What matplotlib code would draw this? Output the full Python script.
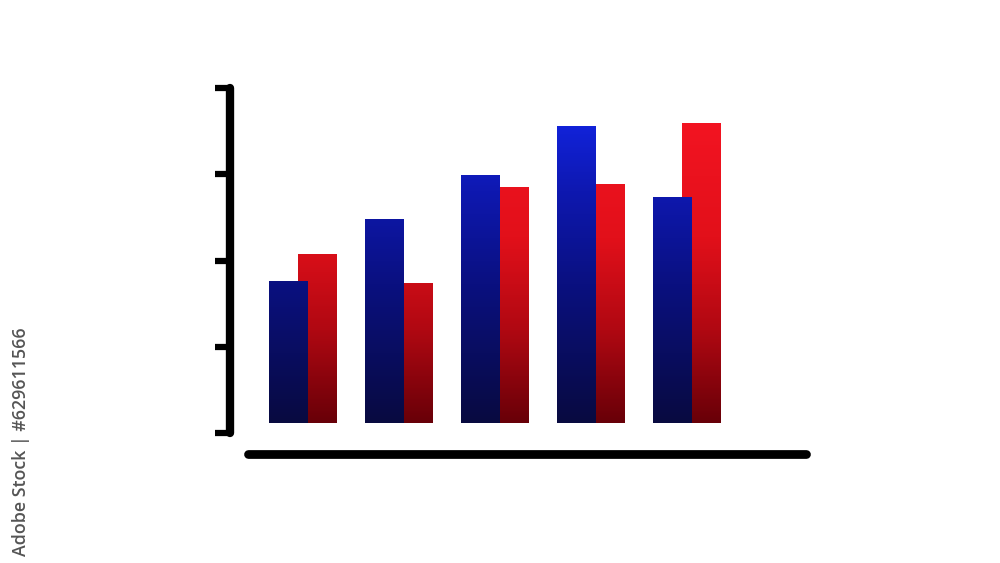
import numpy as np
import matplotlib.pyplot as plt
from matplotlib.colors import LinearSegmentedColormap

# bar values (tick units, baseline at 0)
groups = ["1", "2", "3", "4", "5"]
blue_vals = [1.76, 2.48, 2.99, 3.56, 2.74]
red_vals = [2.08, 1.74, 2.85, 2.89, 3.59]
y_ticks = [0, 1, 2, 3, 4]
base = 0.12  # bars sit slightly above the lowest tick

blue_cmap = LinearSegmentedColormap.from_list(
    "b", [(0, "#080a40"), (0.45, "#0a1080"), (0.75, "#0e18b0"), (1, "#1224e0")])
red_cmap = LinearSegmentedColormap.from_list(
    "r", [(0, "#680008"), (0.3, "#b00812"), (0.6, "#e2101a"), (1, "#f41422")])

fig = plt.figure(figsize=(10, 5.63), dpi=100)
ax = fig.add_axes([0.230, 1 - 433 / 563, 0.576, 345 / 563])

x = np.arange(len(groups))
heights_b = [v - base for v in blue_vals]
heights_r = [v - base for v in red_vals]
red_bars = ax.bar(x + 0.30, heights_r, width=0.40, bottom=base, color="none", zorder=1)
blue_bars = ax.bar(x, heights_b, width=0.40, bottom=base, color="none", zorder=2)

grad = np.linspace(0, 1, 256).reshape(-1, 1)


def fill_gradient(bars, cmap, z):
    for b in bars:
        x0 = b.get_x()
        w = b.get_width()
        im = ax.imshow(grad, cmap=cmap, origin="lower", aspect="auto",
                       extent=[x0, x0 + w, base, 3.7], zorder=z)
        im.set_clip_path(b)


fill_gradient(red_bars, red_cmap, 1)
fill_gradient(blue_bars, blue_cmap, 2)

ax.set_xlim(-0.604, 5.39)
ax.set_ylim(0, 4)
ax.set_yticks(y_ticks)
ax.set_yticklabels([])
ax.set_xticks([])

for s in ["top", "right"]:
    ax.spines[s].set_visible(False)
ax.spines["left"].set_linewidth(6)
ax.spines["left"].set_capstyle("round")
ax.spines["left"].set_bounds(0, 4)
ax.spines["bottom"].set_linewidth(6.3)
ax.spines["bottom"].set_capstyle("round")
ax.spines["bottom"].set_position(("outward", 15))
ax.spines["bottom"].set_bounds(-0.416, 5.39)
ax.tick_params(axis="y", direction="out", length=11, width=4.5, color="black")
for t in ax.yaxis.get_major_ticks():
    t.tick1line.set_solid_capstyle("round")

fig.text(0.021, 0.012, "Adobe Stock | #629611566", rotation=90,
         ha="center", va="bottom", fontsize=12.8, color="#555555",
         family="Open Sans", weight="semibold")

fig.savefig("out.png", dpi=100, facecolor="white")
